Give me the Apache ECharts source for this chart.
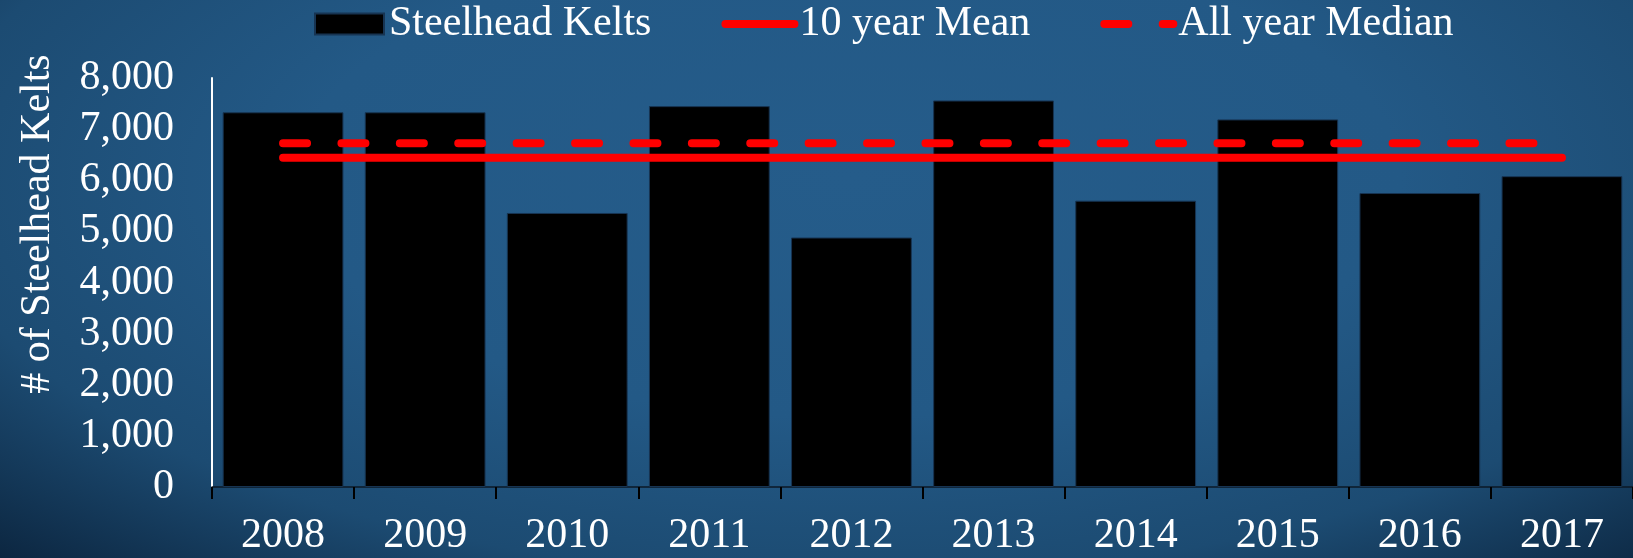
<!DOCTYPE html>
<html>
<head>
<meta charset="utf-8">
<script src="https://cdn.jsdelivr.net/npm/echarts@6/dist/echarts.min.js"></script>
<style>
  html, body { margin: 0; padding: 0; }
  #chart {
    width: 1633px; height: 558px;
    background: radial-gradient(ellipse 75% 95% at 52% 32%, #255c8a 0%, #235986 45%, #1c4b72 75%, #0c2640 100%);
  }
</style>
</head>
<body>
<div id="chart"></div>
<script>
const years = ['2008', '2009', '2010', '2011', '2012', '2013', '2014', '2015', '2016', '2017'];
const kelts = [7330, 7330, 5360, 7450, 4880, 7560, 5600, 7190, 5750, 6080];
const tenYearMean = [6440, 6440, 6440, 6440, 6440, 6440, 6440, 6440, 6440, 6440];
const allYearMedian = [6725, 6725, 6725, 6725, 6725, 6725, 6725, 6725, 6725, 6725];
const yTicks = { min: 0, max: 8000, interval: 1000 };

const FONT = 'Liberation Serif, Times New Roman, serif';
const chart = echarts.init(document.getElementById('chart'), null, { renderer: 'canvas' });

const hiddenSymbol = { color: 'rgba(0,0,0,0)', borderWidth: 0, opacity: 0 };

chart.setOption({
  backgroundColor: 'transparent',
  animation: false,
  textStyle: { fontFamily: FONT },
  legend: {
    left: 314,
    top: 3,
    padding: 0,
    itemWidth: 69,
    itemHeight: 21,
    itemGap: 70,
    textStyle: { color: '#ffffff', fontSize: 42, fontFamily: FONT },
    data: [
      { name: 'Steelhead Kelts', icon: 'rect' },
      { name: '10 year Mean', itemStyle: hiddenSymbol, lineStyle: { width: 8, cap: 'round', color: '#ff0000' } },
      { name: 'All year Median', itemStyle: hiddenSymbol, lineStyle: { width: 8, cap: 'round', color: '#ff0000', type: [24, 34.4] } }
    ]
  },
  grid: { left: 212, right: 0, top: 78, bottom: 71, containLabel: false },
  xAxis: {
    type: 'category',
    data: years,
    boundaryGap: true,
    axisLine: { show: true, lineStyle: { color: '#0b1826', width: 1.5 } },
    axisTick: { show: true, length: 12, lineStyle: { color: '#000000', width: 2 } },
    axisLabel: { color: '#ffffff', fontSize: 42, fontFamily: FONT, margin: 28 },
    splitLine: { show: false }
  },
  yAxis: {
    type: 'value',
    min: yTicks.min,
    max: yTicks.max,
    interval: yTicks.interval,
    axisLine: { show: true, lineStyle: { color: '#ffffff', width: 2 } },
    axisTick: { show: false },
    splitLine: { show: false },
    axisLabel: {
      color: '#ffffff', fontSize: 42, fontFamily: FONT, margin: 38,
      formatter: v => v.toLocaleString('en-US')
    }
  },
  graphic: [{
    type: 'text',
    x: 38,
    y: 224,
    rotation: Math.PI / 2,
    style: {
      text: '# of Steelhead Kelts',
      fill: '#ffffff',
      font: '42px ' + FONT,
      align: 'center',
      verticalAlign: 'middle',
      textAlign: 'center',
      textVerticalAlign: 'middle'
    }
  }],
  series: [
    {
      name: 'Steelhead Kelts',
      type: 'bar',
      data: kelts,
      barCategoryGap: '15%',
      itemStyle: { color: '#000000', borderColor: '#173452', borderWidth: 1 }
    },
    {
      name: '10 year Mean',
      type: 'line',
      data: tenYearMean,
      symbol: 'none',
      showSymbol: false,
      lineStyle: { color: '#ff0000', width: 8, cap: 'round' },
      itemStyle: { color: '#ff0000' },
      z: 3
    },
    {
      name: 'All year Median',
      type: 'line',
      data: allYearMedian,
      symbol: 'none',
      showSymbol: false,
      lineStyle: { color: '#ff0000', width: 8, cap: 'round', type: [24, 34.4] },
      itemStyle: { color: '#ff0000' },
      z: 3
    }
  ]
});
</script>
</body>
</html>
